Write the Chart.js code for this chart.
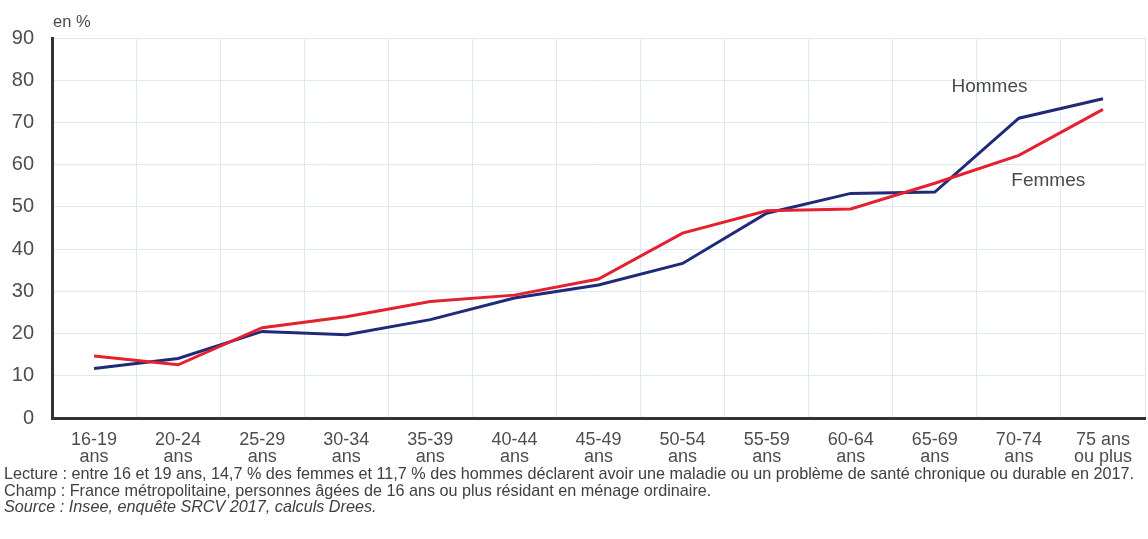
<!DOCTYPE html>
<html>
<head>
<meta charset="utf-8">
<script src="https://cdn.jsdelivr.net/npm/chart.js@4"></script>
<style>
  body { margin: 0; background: #fff; width: 1148px; height: 539px; overflow: hidden; font-family: "Liberation Sans", Arial, sans-serif; }
  #wrap { position: absolute; left: 0; top: 0; width: 1148px; height: 466px; }
  #notes { position: absolute; left: 4px; top: 465px; color: #404040; font-size: 16.2px; line-height: 16.5px; white-space: nowrap; }
</style>
</head>
<body>
<div id="wrap"><canvas id="lineChart"></canvas></div>
<div id="notes">
  <div>Lecture : entre 16 et 19 ans, 14,7 % des femmes et 11,7 % des hommes déclarent avoir une maladie ou un problème de santé chronique ou durable en 2017.</div>
  <div>Champ : France métropolitaine, personnes âgées de 16 ans ou plus résidant en ménage ordinaire.</div>
  <div><i>Source : Insee, enquête SRCV 2017, calculs Drees.</i></div>
</div>
<script>
// age groups, two lines per label
let ageLabels = [
    ["16-19", "ans"], ["20-24", "ans"], ["25-29", "ans"], ["30-34", "ans"],
    ["35-39", "ans"], ["40-44", "ans"], ["45-49", "ans"], ["50-54", "ans"],
    ["55-59", "ans"], ["60-64", "ans"], ["65-69", "ans"], ["70-74", "ans"],
    ["75 ans", "ou plus"]
];
let femmes = [14.7, 12.6, 21.4, 24.0, 27.6, 29.1, 32.9, 43.8, 49.1, 49.5, 55.6, 62.2, 73.1];
let hommes = [11.7, 14.1, 20.5, 19.7, 23.3, 28.4, 31.5, 36.6, 48.5, 53.2, 53.5, 71.0, 75.6];
let yTicks = [0, 10, 20, 30, 40, 50, 60, 70, 80, 90];

const fontFam = '"Liberation Sans", Arial, sans-serif';

// series names written next to the lines + the "en %" unit
const seriesLabels = {
    id: 'seriesLabels',
    afterDraw(chart) {
        let ctx = chart.ctx;
        let x = chart.scales.x;
        let y = chart.scales.y;
        ctx.save();
        ctx.fillStyle = '#4a4a4a';
        ctx.textAlign = 'center';
        ctx.textBaseline = 'middle';
        ctx.font = '19px ' + fontFam;
        ctx.fillText('Hommes', x.getPixelForValue(10.65), y.getPixelForValue(78.4));
        ctx.fillText('Femmes', x.getPixelForValue(11.35), y.getPixelForValue(56.2));
        ctx.textAlign = 'left';
        ctx.font = '16.5px ' + fontFam;
        ctx.fillText('en %', chart.chartArea.left + 1, chart.chartArea.top - 16);
        ctx.restore();
    }
};

new Chart(document.getElementById('lineChart'), {
    type: 'line',
    data: {
        labels: ageLabels,
        datasets: [{
            label: 'Femmes',
            data: femmes,
            borderColor: '#e3212f',
            borderWidth: 3,
            pointRadius: 0,
            tension: 0
        }, {
            label: 'Hommes',
            data: hommes,
            borderColor: '#1f2a78',
            borderWidth: 3,
            pointRadius: 0,
            tension: 0
        }]
    },
    options: {
        responsive: true,
        maintainAspectRatio: false,
        animation: false,
        layout: {
            padding: { top: 38, right: 3, left: 0, bottom: 0 }
        },
        plugins: {
            legend: { display: false },
            tooltip: { enabled: false }
        },
        scales: {
            x: {
                offset: true,
                afterFit: function(s) { s.height = 48; },
                grid: { offset: true, color: '#dde8f4', lineWidth: 1, drawTicks: false },
                border: { color: '#333', width: 3 },
                ticks: {
                    color: '#4d4d4d',
                    padding: 13,
                    maxRotation: 0,
                    autoSkip: false,
                    font: { family: fontFam, size: 18, lineHeight: 0.95 }
                }
            },
            y: {
                min: 0,
                max: 90,
                afterFit: function(s) { s.width = 52; },
                afterBuildTicks: function(s) { s.ticks = yTicks.map(v => ({ value: v })); },
                grid: { color: '#dde8f4', lineWidth: 1, drawTicks: false },
                border: { color: '#333', width: 3 },
                ticks: {
                    color: '#4d4d4d',
                    padding: 18,
                    font: { family: fontFam, size: 20 }
                }
            }
        }
    },
    plugins: [seriesLabels]
});
</script>
</body>
</html>
